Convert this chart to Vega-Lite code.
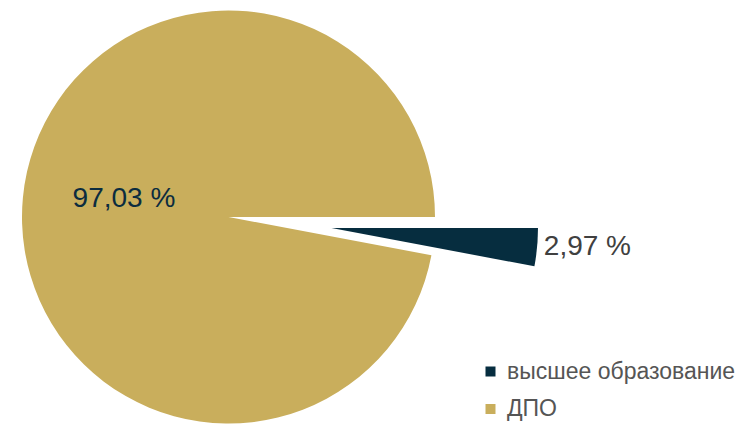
{
  "$schema": "https://vega.github.io/schema/vega-lite/v6.json",
  "width": 457,
  "height": 434,
  "padding": 0,
  "autosize": {"type": "pad"},
  "background": "white",
  "config": {"view": {"stroke": null}, "font": "Liberation Sans"},
  "data": {
    "values": [
      {"category": "высшее образование", "value": 2.97, "label": "2,97 %", "order": 1},
      {"category": "ДПО", "value": 97.03, "label": "97,03 %", "order": 2}
    ]
  },
  "encoding": {
    "theta": {"field": "value", "type": "quantitative", "stack": true, "scale": {"range": [1.5707963, 7.8539816]}},
    "order": {"field": "order", "type": "quantitative"}
  },
  "layer": [
    {
      "mark": {"type": "arc", "outerRadius": 206.5},
      "encoding": {
        "color": {
          "field": "category", "type": "nominal",
          "scale": {"domain": ["высшее образование", "ДПО"], "range": ["#062D3F", "#C9AE5C"]},
          "legend": {
            "title": null, "orient": "none", "legendX": 479, "legendY": 360,
            "symbolType": "square", "symbolSize": 100, "symbolStrokeWidth": 0,
            "labelFontSize": 23, "labelColor": "#555555", "labelFont": "Liberation Sans",
            "labelOffset": 5, "rowPadding": 13.5, "labelLimit": 400
          }
        },
        "fillOpacity": {"condition": {"test": "datum.category === 'ДПО'", "value": 1}, "value": 0}
      }
    },
    {
      "mark": {"type": "arc", "outerRadius": 206.5, "xOffset": 103, "yOffset": 11},
      "encoding": {
        "color": {"field": "category", "type": "nominal"},
        "fillOpacity": {"condition": {"test": "datum.category === 'высшее образование'", "value": 1}, "value": 0}
      }
    },
    {
      "mark": {"type": "text", "radius": 105, "fontSize": 28, "dy": -8, "color": "#0B2C3F"},
      "encoding": {
        "text": {"field": "label"},
        "opacity": {"condition": {"test": "datum.category === 'ДПО'", "value": 1}, "value": 0}
      }
    },
    {
      "mark": {"type": "text", "radius": 257, "fontSize": 28, "dy": -5, "xOffset": 103, "yOffset": 11, "color": "#404040"},
      "encoding": {
        "text": {"field": "label"},
        "opacity": {"condition": {"test": "datum.category === 'высшее образование'", "value": 1}, "value": 0}
      }
    }
  ]
}
